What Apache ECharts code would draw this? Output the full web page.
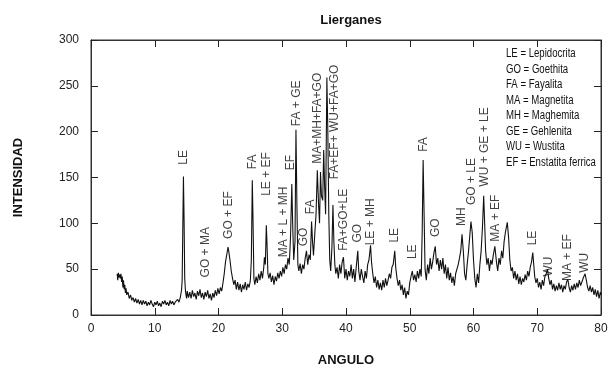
<!DOCTYPE html>
<html>
<head>
<meta charset="utf-8">
<script src="https://cdn.jsdelivr.net/npm/echarts@6/dist/echarts.min.js"></script>
<style>html,body{margin:0;padding:0;background:#fff;}#c{width:614px;height:372px;}</style>
</head>
<body>
<div id="c"></div>
<script>
// ---- data ----
const angles = [
4.1,4.2,4.3,4.4,4.5,4.6,4.7,4.8,4.9,5.0,5.1,5.2,5.3,5.4,5.5,5.6,5.8,6.0,6.2,6.4,6.6,6.8,7.0,7.2,7.4,7.6,7.8,
8.0,8.2,8.4,8.6,8.8,9.0,9.2,9.4,9.6,9.8,10.0,10.2,10.4,10.6,10.8,11.0,11.2,11.4,11.6,11.8,12.0,12.2,12.4,12.6,12.8,13.0,13.2,13.4,13.6,13.8,14.0,14.2,14.3,14.4,14.5,14.6,14.7,14.8,14.9,15.0,
15.1,15.3,15.5,15.7,15.9,16.1,16.3,16.5,16.7,16.9,17.1,17.3,17.5,17.7,17.9,18.1,18.3,18.5,18.7,18.9,19.1,19.3,19.5,19.7,19.9,20.1,20.3,20.5,20.7,20.9,21.1,21.3,21.5,21.6,21.8,22.0,22.2,22.4,22.6,22.8,23.0,23.2,23.4,23.6,23.8,24.0,24.2,24.4,24.6,24.8,25.0,25.15,25.3,25.4,25.55,25.7,25.9,26.1,26.3,26.5,26.7,26.9,27.1,27.2,27.35,27.5,27.6,27.75,27.9,28.1,28.3,28.5,28.7,28.9,29.1,29.3,29.5,29.7,29.9,30.1,30.3,30.5,30.7,30.9,31.1,31.3,31.5,31.65,31.8,32.0,32.15,32.3,32.45,32.6,32.8,33.0,33.2,33.4,33.6,33.8,34.0,34.2,34.4,34.6,34.75,34.9,35.1,35.3,35.5,35.7,35.85,36.0,36.15,36.35,36.5,36.65,36.8,37.0,37.15,37.3,37.45,37.6,37.8,37.95,38.1,38.25,38.4,38.6,38.8,39.0,39.2,39.4,39.6,39.8,40.0,40.2,40.4,40.6,40.8,41.0,41.2,41.4,41.6,41.85,42.0,42.2,42.4,42.6,42.8,43.0,43.2,43.4,43.6,43.85,44.0,44.2,44.4,44.6,44.8,45.0,45.2,45.4,45.6,45.8,46.0,46.2,46.4,46.6,46.8,47.0,47.2,47.4,47.65,47.8,48.0,48.2,48.4,48.6,48.8,49.0,49.2,49.4,49.6,49.8,50.0,50.2,50.4,50.6,50.8,51.0,51.2,51.4,51.6,51.8,51.95,52.1,52.25,52.4,52.6,52.8,53.0,53.2,53.4,53.6,53.8,54.0,54.2,54.4,54.6,54.8,55.0,55.2,55.4,55.6,55.8,56.0,56.2,56.4,56.6,56.8,57.0,57.2,57.4,57.6,57.8,58.0,58.2,58.4,58.6,58.8,59.0,59.2,59.4,59.6,59.8,60.0,60.2,60.4,60.6,60.8,61.0,61.2,61.4,61.6,61.75,61.9,62.1,62.3,62.5,62.7,62.9,63.1,63.35,63.6,63.8,64.0,64.2,64.4,64.6,64.8,65.0,65.3,65.5,65.7,65.9,66.1,66.3,66.5,66.7,66.9,67.1,67.3,67.5,67.7,67.9,68.1,68.3,68.5,68.7,68.9,69.1,69.3,69.45,69.6,69.8,70.0,70.2,70.4,70.6,70.8,71.0,71.2,71.4,71.6,71.8,72.0,72.2,72.4,72.6,72.8,73.0,73.2,73.4,73.6,73.8,74.0,74.2,74.4,74.6,74.8,75.0,75.2,75.4,75.6,75.8,76.0,76.2,76.4,76.6,76.8,77.0,77.2,77.5,77.7,77.9,78.1,78.3,78.5,78.7,78.9,79.1,79.3,79.5,79.7,79.9,80.0
];
const intensity = [
45,38,46,41,44,40,45,36,42,30,38,28,33,24,29,22,25,18,22,16,19,14,18,13,17,12,16,
11,16,12,15,10,14,11,16,12,9,14,11,15,10,13,9,15,12,16,11,14,10,16,12,15,11,14,12,17,14,19,27,38,95,151,105,40,28,22,18,
26,19,25,18,27,20,24,17,26,21,28,19,24,17,25,20,27,18,23,16,24,19,27,21,29,23,30,26,35,45,58,66,74,70,60,48,40,33,38,28,36,27,34,25,33,28,36,27,34,30,38,60,147,110,40,33,42,35,45,38,48,40,52,63,55,98,80,45,40,46,36,43,33,42,37,46,40,48,42,52,45,55,50,62,55,85,143,95,60,80,202,120,55,48,56,45,55,50,62,70,55,66,60,102,80,65,88,110,158,120,100,156,130,125,180,140,110,259,200,110,60,48,75,120,80,55,45,52,40,55,45,58,63,40,50,38,48,42,55,40,50,36,52,70,48,38,50,42,35,48,40,55,60,76,58,45,35,42,30,38,28,35,27,38,30,40,32,38,45,40,52,55,70,52,40,32,38,27,33,22,30,18,26,22,35,42,48,38,44,36,48,40,50,42,90,169,110,50,38,55,45,62,50,58,68,75,55,62,48,60,50,62,45,55,40,52,38,46,35,42,32,45,50,55,62,70,88,70,45,38,55,68,85,102,90,60,40,30,45,35,55,70,95,130,100,70,55,62,48,60,55,65,75,58,48,62,55,70,62,80,90,101,85,60,48,52,40,48,38,45,34,42,33,40,36,44,38,48,42,52,58,68,55,42,35,40,30,36,28,38,32,42,45,50,40,33,38,28,34,26,32,27,35,28,33,25,32,28,36,39,30,25,32,27,34,28,35,30,38,32,36,40,45,38,30,26,32,25,30,22,28,20,27,18,25,22
];
const peakNames = ["LE","GO + MA","GO + EF","FA","LE + EF","MA + L + MH","EF","FA + GE","GO","FA","MA+MH+FA+GO","FA+EF+ WU+FA+GO","FA+GO+LE","GO","LE + MH","LE","LE","FA","GO","MH","GO + LE","WU + GE + LE","MA + EF","LE","WU","MA + EF","WU"];
const peakAngles = [14.5,18.0,21.6,25.4,27.5,30.2,31.4,32.3,33.4,34.4,35.6,38.3,39.6,41.9,43.9,47.6,50.5,52.2,54.0,58.2,59.7,61.8,63.5,69.3,71.8,74.8,77.5];
const peakLabelBase = [164,41,83,159,130,63,158,206,75,110,165,148,70,79,76,79,61,178,85,97,120,140,80,76,42,37,46];
const legendLines = ["LE = Lepidocrita","GO = Goethita","FA = Fayalita","MA = Magnetita","MH = Maghemita","GE = Gehlenita","WU = Wustita","EF = Enstatita ferrica"];
const xTicks = {min:0, max:80, interval:10};
const yTicks = {min:0, max:300, interval:50};

// ---- chart ----
const chart = echarts.init(document.getElementById('c'), null, {renderer:'canvas'});
const font = 'Arial, "Liberation Sans", Helvetica, sans-serif';
const axisCol = '#333';
const lineData = angles.map((a,i)=>[a,intensity[i]]);
const labelData = peakAngles.map((a,i)=>({value:[a,peakLabelBase[i]], name:peakNames[i]}));
function tickAxis(pos, showLabel, t){
  return {type:'value', position:pos, min:t.min, max:t.max, interval:t.interval,
    axisLine:{show:true, onZero:false, lineStyle:{color:axisCol, width:1}},
    axisTick:{show:true, inside:true, length:7, lineStyle:{color:'#222', width:1}},
    axisLabel:{show:showLabel, inside:false, fontFamily:font, fontSize:12, color:'#222'},
    splitLine:{show:false}};
}
const xMain = tickAxis('bottom', true, xTicks);
Object.assign(xMain, {name:'ANGULO', nameLocation:'middle', nameGap:39,
  nameTextStyle:{fontFamily:font, fontSize:13, fontWeight:'bold', color:'#111'}});
xMain.axisLabel.margin = 8;
const yMain = tickAxis('left', true, yTicks);
Object.assign(yMain, {name:'INTENSIDAD', nameLocation:'middle', nameGap:66,
  nameTextStyle:{fontFamily:font, fontSize:13, fontWeight:'bold', color:'#111'}});
yMain.axisLabel.margin = 12;

chart.setOption({
  animation:false,
  backgroundColor:'#fff',
  title:{text:'Lierganes', left:346, textAlign:'center', top:9,
    textStyle:{fontFamily:font, fontSize:13, fontWeight:'bold', color:'#111'}},
  grid:{left:91, right:13, top:40, bottom:56, containLabel:false, show:true,
    borderColor:axisCol, borderWidth:1, backgroundColor:'transparent'},
  xAxis:[xMain, tickAxis('top', false, xTicks)],
  yAxis:[yMain, tickAxis('right', false, yTicks)],
  series:[
    {type:'line', data:lineData, symbol:'none', xAxisIndex:0, yAxisIndex:0,
     lineStyle:{color:'#111', width:1.1}, silent:true},
    {type:'line', data:[], xAxisIndex:1, yAxisIndex:1, silent:true},
    {type:'scatter', data:labelData, symbolSize:0, xAxisIndex:0, yAxisIndex:0, silent:true,
     label:{show:true, position:'inside', rotate:90, align:'left', verticalAlign:'middle',
       formatter:p=>p.name, fontFamily:font, fontSize:12, color:'#111'}}
  ],
  graphic:[{type:'text', x:506, y:46, scaleX:0.8, scaleY:1,
    style:{text:legendLines.join('\n'), fontFamily:font,
      fontSize:12, lineHeight:15.5, fill:'#111'}}]
});
</script>
</body>
</html>
